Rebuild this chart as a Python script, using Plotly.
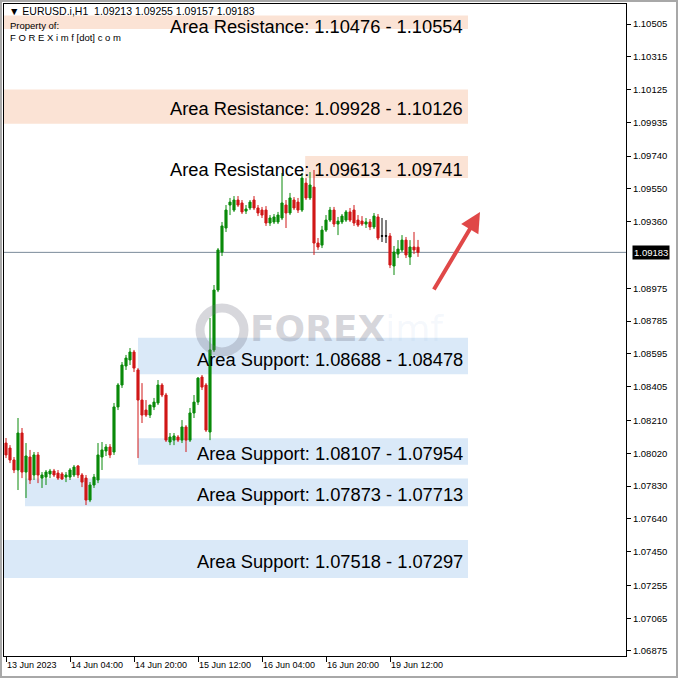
import plotly.graph_objects as go

# ---------------- data (EURUSD.i H1) ----------------
opens = [1.08079, 1.08050, 1.07981, 1.07923, 1.08137, 1.07911, 1.07998, 1.07894, 1.08010, 1.07876,
         1.07882, 1.07900, 1.07917, 1.07905, 1.07900, 1.07882, 1.07882, 1.07894, 1.07946, 1.07894,
         1.07876, 1.07749, 1.07836, 1.07865, 1.07998, 1.08033, 1.08056, 1.08027, 1.08288, 1.08415,
         1.08525, 1.08560, 1.08606, 1.08502, 1.08328, 1.08270, 1.08241, 1.08288, 1.08311, 1.08415,
         1.08357, 1.08085, 1.08096, 1.08114, 1.08096, 1.08172, 1.08096, 1.08253, 1.08316, 1.08461,
         1.08415, 1.08143, 1.08618, 1.08965, 1.09185, 1.09324, 1.09457, 1.09428, 1.09486, 1.09469,
         1.09422, 1.09440, 1.09486, 1.09440, 1.09428, 1.09428, 1.09353, 1.09359, 1.09359, 1.09382,
         1.09457, 1.09411, 1.09486, 1.09474, 1.09428, 1.09584, 1.09498, 1.09561, 1.09237, 1.09225,
         1.09312, 1.09370, 1.09428, 1.09347, 1.09359, 1.09370, 1.09417, 1.09428, 1.09370, 1.09364,
         1.09347, 1.09359, 1.09330, 1.09388, 1.09278, 1.09278, 1.09278, 1.09104, 1.09173, 1.09197,
         1.09254, 1.09156, 1.09214, 1.09213]
highs = [1.08108, 1.08067, 1.07998, 1.08224, 1.08166, 1.08079, 1.08039, 1.08027, 1.08027, 1.07911,
         1.07923, 1.07929, 1.07929, 1.07923, 1.07911, 1.07911, 1.07934, 1.07952, 1.07952, 1.07905,
         1.07894, 1.07853, 1.07900, 1.08079, 1.08085, 1.08073, 1.08073, 1.08311, 1.08426, 1.08548,
         1.08589, 1.08629, 1.08618, 1.08513, 1.08426, 1.08328, 1.08299, 1.08340, 1.08444, 1.08426,
         1.08369, 1.08137, 1.08137, 1.08125, 1.08212, 1.08183, 1.08282, 1.08357, 1.08461, 1.08473,
         1.08426, 1.08803, 1.08994, 1.09208, 1.09359, 1.09457, 1.09498, 1.09509, 1.09509, 1.09486,
         1.09457, 1.09486, 1.09509, 1.09457, 1.09446, 1.09451, 1.09399, 1.09405, 1.09417, 1.09642,
         1.09486, 1.09527, 1.09503, 1.09498, 1.09642, 1.09613, 1.09648, 1.09660, 1.09266, 1.09336,
         1.09399, 1.09446, 1.09446, 1.09388, 1.09405, 1.09428, 1.09440, 1.09457, 1.09399, 1.09393,
         1.09382, 1.09376, 1.09411, 1.09405, 1.09382, 1.09370, 1.09295, 1.09220, 1.09254, 1.09283,
         1.09272, 1.09254, 1.09301, 1.09255]
lows = [1.07992, 1.07963, 1.07905, 1.07807, 1.07876, 1.07761, 1.07842, 1.07865, 1.07847, 1.07819,
        1.07836, 1.07876, 1.07882, 1.07865, 1.07865, 1.07853, 1.07865, 1.07882, 1.07876, 1.07824,
        1.07720, 1.07737, 1.07819, 1.07847, 1.07923, 1.08004, 1.07992, 1.08010, 1.08270, 1.08398,
        1.08502, 1.08531, 1.08490, 1.07992, 1.08195, 1.08230, 1.08224, 1.08270, 1.08299, 1.08345,
        1.08085, 1.08067, 1.08067, 1.08085, 1.08079, 1.08027, 1.08085, 1.08224, 1.08299, 1.08386,
        1.08143, 1.08096, 1.08606, 1.08953, 1.09162, 1.09301, 1.09399, 1.09417, 1.09446, 1.09405,
        1.09405, 1.09428, 1.09428, 1.09393, 1.09382, 1.09336, 1.09336, 1.09347, 1.09347, 1.09370,
        1.09324, 1.09399, 1.09428, 1.09411, 1.09417, 1.09486, 1.09486, 1.09168, 1.09197, 1.09208,
        1.09301, 1.09359, 1.09330, 1.09283, 1.09347, 1.09359, 1.09359, 1.09336, 1.09330, 1.09336,
        1.09324, 1.09312, 1.09318, 1.09254, 1.09243, 1.09237, 1.09092, 1.09052, 1.09150, 1.09185,
        1.09150, 1.09110, 1.09173, 1.09157]
closes = [1.08010, 1.07981, 1.07923, 1.08137, 1.07911, 1.08004, 1.07865, 1.08010, 1.07894, 1.07894,
          1.07911, 1.07917, 1.07894, 1.07876, 1.07871, 1.07894, 1.07923, 1.07940, 1.07894, 1.07853,
          1.07749, 1.07836, 1.07882, 1.08010, 1.08039, 1.08056, 1.08010, 1.08288, 1.08415, 1.08531,
          1.08571, 1.08606, 1.08513, 1.08328, 1.08241, 1.08241, 1.08299, 1.08316, 1.08415, 1.08357,
          1.08096, 1.08114, 1.08120, 1.08096, 1.08172, 1.08096, 1.08253, 1.08316, 1.08455, 1.08403,
          1.08154, 1.08618, 1.08965, 1.09197, 1.09336, 1.09428, 1.09474, 1.09486, 1.09457, 1.09417,
          1.09434, 1.09474, 1.09440, 1.09411, 1.09399, 1.09353, 1.09382, 1.09388, 1.09399, 1.09469,
          1.09411, 1.09498, 1.09440, 1.09428, 1.09613, 1.09498, 1.09573, 1.09237, 1.09214, 1.09312,
          1.09370, 1.09428, 1.09347, 1.09364, 1.09393, 1.09417, 1.09370, 1.09353, 1.09341, 1.09347,
          1.09359, 1.09330, 1.09393, 1.09266, 1.09278, 1.09278, 1.09110, 1.09185, 1.09202, 1.09254,
          1.09168, 1.09214, 1.09197, 1.09183]

last_price = 1.09183
header_ohlc = ["1.09213", "1.09255", "1.09157", "1.09183"]

x_tick_bars = [0, 16, 32, 48, 64, 80, 96]
x_tick_labels = ["13 Jun 2023", "14 Jun 04:00", "14 Jun 20:00", "15 Jun 12:00",
                 "16 Jun 04:00", "16 Jun 20:00", "19 Jun 12:00"]
y_tick_labels = ["1.10505", "1.10315", "1.10125", "1.09935", "1.09740", "1.09550", "1.09360",
                 "1.08975", "1.08785", "1.08595", "1.08405", "1.08210", "1.08020", "1.07830",
                 "1.07640", "1.07450", "1.07255", "1.07065", "1.06875"]

zone_kind = ["Resistance", "Resistance", "Resistance", "Support", "Support", "Support", "Support"]
zone_low = [1.10476, 1.09928, 1.09613, 1.08478, 1.07954, 1.07713, 1.07297]
zone_high = [1.10554, 1.10126, 1.09741, 1.08688, 1.08107, 1.07873, 1.07518]
zone_label = ["1.10476 - 1.10554", "1.09928 - 1.10126", "1.09613 - 1.09741",
              "1.08688 - 1.08478", "1.08107 - 1.07954", "1.07873 - 1.07713", "1.07518 - 1.07297"]
zone_start_bar = [-0.5, -0.5, 74.8, 33.0, 33.0, 4.75, -0.5]
zone_end_bar = 115.5

# ---------------- figure ----------------
GREEN = "#0a8a0a"
RED = "#d01818"
FONT = "Liberation Sans"

n = len(opens)
idx = list(range(n))
doji = [i for i in idx if opens[i] == closes[i]]
norm = [i for i in idx if opens[i] != closes[i]]

fig = go.Figure()
fig.add_trace(go.Candlestick(
    x=norm,
    open=[opens[i] for i in norm], high=[highs[i] for i in norm],
    low=[lows[i] for i in norm], close=[closes[i] for i in norm],
    increasing=dict(line=dict(color=GREEN, width=1), fillcolor=GREEN),
    decreasing=dict(line=dict(color=RED, width=1), fillcolor=RED),
    whiskerwidth=0, hoverinfo="skip", showlegend=False,
))
fig.add_trace(go.Candlestick(
    x=doji,
    open=[opens[i] for i in doji], high=[highs[i] for i in doji],
    low=[lows[i] for i in doji], close=[closes[i] for i in doji],
    increasing=dict(line=dict(color="black", width=1), fillcolor="black"),
    decreasing=dict(line=dict(color="black", width=1), fillcolor="black"),
    whiskerwidth=0, hoverinfo="skip", showlegend=False,
))

shapes = []
annotations = []
for k in range(len(zone_kind)):
    fill = "rgb(251,227,213)" if zone_kind[k] == "Resistance" else "rgb(218,233,248)"
    shapes.append(dict(type="rect", xref="x", yref="y", layer="below",
                       x0=zone_start_bar[k], x1=zone_end_bar, y0=zone_low[k], y1=zone_high[k],
                       fillcolor=fill, line=dict(width=0)))
    annotations.append(dict(xref="x", yref="y", x=zone_end_bar, y=(zone_low[k] + zone_high[k]) / 2,
                            xanchor="right", yanchor="middle", xshift=-3,
                            yshift=-4 if k in (0, 3) else -2, showarrow=False,
                            text=f"Area {zone_kind[k]}: {zone_label[k]}",
                            font=dict(family=FONT, size=18.3, color="black")))

# current price line
shapes.append(dict(type="line", xref="paper", yref="y", x0=0, x1=1, y0=last_price, y1=last_price,
                   layer="below", line=dict(color="#7a8a9a", width=1)))

# outer frame of the window
shapes.append(dict(type="rect", xref="paper", yref="paper",
                   x0=-3 / 622, x1=673 / 622, y0=-21 / 652, y1=1 + 3 / 652,
                   line=dict(color="#a8a8a8", width=2)))

# watermark logo ring
shapes.append(dict(type="circle", xref="paper", yref="paper",
                   x0=(200 - 4) / 622, x1=(244 - 4) / 622,
                   y0=1 - (352 - 4) / 652, y1=1 - (308 - 4) / 652,
                   line=dict(color="rgba(110,110,130,0.28)", width=9)))

# current price tag
annotations.append(dict(xref="paper", yref="y", x=1, y=last_price, xanchor="left", xshift=6,
                        showarrow=False, text="1.09183", bgcolor="black", borderpad=1,
                        font=dict(family=FONT, size=9.5, color="white")))

# header
annotations.append(dict(xref="paper", yref="paper", x=3 / 622, y=1 - 7 / 652, xanchor="left",
                        yanchor="middle", showarrow=False,
                        text="▼ EURUSD.i,H1  " + " ".join(header_ohlc),
                        font=dict(family=FONT, size=10.5, color="black")))
annotations.append(dict(xref="paper", yref="paper", x=4 / 622, y=1 - 21 / 652, xanchor="left",
                        yanchor="middle", showarrow=False, text="Property of:",
                        font=dict(family=FONT, size=9.5, color="black")))
annotations.append(dict(xref="paper", yref="paper", x=4 / 622, y=1 - 33 / 652, xanchor="left",
                        yanchor="middle", showarrow=False, text="F O R E X i m f [dot] c o m",
                        font=dict(family=FONT, size=9.5, color="black")))

# watermark text
annotations.append(dict(xref="paper", yref="paper", x=(248 - 4) / 622, y=1 - (328 - 4) / 652,
                        xanchor="left", yanchor="middle", showarrow=False,
                        text="<b>FOREX</b><span style='color:rgba(150,190,225,0.38)'>imf</span>",
                        font=dict(family="DejaVu Sans", size=36, color="rgba(110,110,130,0.28)")))

# red arrow
annotations.append(dict(xref="paper", yref="paper", x=(480 - 4) / 622, y=1 - (212 - 4) / 652,
                        ax=-47, ay=79, axref="pixel", ayref="pixel", text="", showarrow=True,
                        arrowhead=2, arrowsize=1, arrowwidth=4, arrowcolor="#e04848"))

fig.update_layout(
    width=678, height=678,
    margin=dict(l=4, r=52, t=4, b=22),
    paper_bgcolor="white", plot_bgcolor="white",
    showlegend=False, boxgap=0.25,
    shapes=shapes, annotations=annotations,
    xaxis=dict(range=[-0.5, 155], rangeslider=dict(visible=False), showgrid=False, zeroline=False,
               tickvals=x_tick_bars, ticktext=x_tick_labels, ticks="outside", ticklen=5,
               tickcolor="black", ticklabelposition="outside right",
               tickfont=dict(family=FONT, size=9, color="black"),
               showline=True, linecolor="black", linewidth=1, mirror=True),
    yaxis=dict(range=[1.06846, 1.10621], side="right", showgrid=False, zeroline=False,
               tickvals=[float(v) for v in y_tick_labels], ticktext=y_tick_labels,
               ticks="outside", ticklen=4, tickcolor="black",
               tickfont=dict(family=FONT, size=9.5, color="black"),
               showline=True, linecolor="black", linewidth=1, mirror=True),
)

fig.write_html("out.html", config={"displayModeBar": False},
               post_script="document.body.style.margin='0';document.body.style.overflow='hidden';")
